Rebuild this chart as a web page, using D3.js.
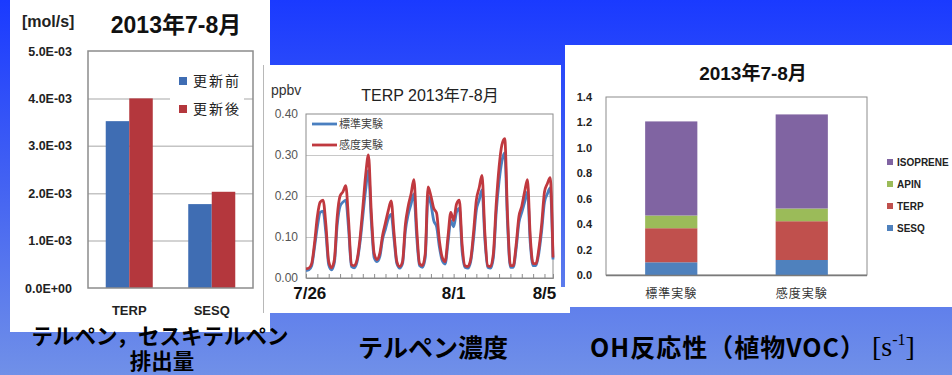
<!DOCTYPE html>
<html><head><meta charset="utf-8">
<script src="https://cdn.jsdelivr.net/npm/d3@7"></script>
<style>
html,body{margin:0;padding:0;overflow:hidden;background:#fff;}
svg{display:block;}
</style></head>
<body>
<svg id="slide" width="952" height="375"></svg>
<script>
// ---- Emissions of terpenes / sesquiterpenes [mol/s] ----
const emisCategories = ["TERP", "SESQ"];
const emisSeries = ["更新前", "更新後"];
const emisBefore = [3.52e-3, 1.77e-3];
const emisAfter = [4.0e-3, 2.03e-3];
const emisTickValues = [0, 1e-3, 2e-3, 3e-3, 4e-3, 5e-3];
const emisTickLabels = ["0.0E+00", "1.0E-03", "2.0E-03", "3.0E-03", "4.0E-03", "5.0E-03"];

// ---- TERP concentration [ppbv], 3-hourly from 2013-07-26 00:00 ----
const terpStart = new Date(2013, 6, 26, 0, 0);
const terpStepHours = 3;
const terpStandard = [
  0.018, 0.020, 0.030, 0.075, 0.125, 0.160, 0.163, 0.110,
  0.032, 0.020, 0.038, 0.130, 0.175, 0.185, 0.190, 0.120,
  0.028, 0.025, 0.040, 0.085, 0.150, 0.215, 0.262, 0.140,
  0.050, 0.040, 0.052, 0.095, 0.120, 0.145, 0.155, 0.095,
  0.035, 0.024, 0.035, 0.115, 0.155, 0.180, 0.205, 0.100,
  0.030, 0.026, 0.050, 0.200, 0.180, 0.140, 0.125, 0.075,
  0.042, 0.034, 0.085, 0.140, 0.125, 0.160, 0.170, 0.065,
  0.026, 0.024, 0.040, 0.095, 0.165, 0.190, 0.215, 0.095,
  0.026, 0.024, 0.050, 0.160, 0.235, 0.285, 0.305, 0.130,
  0.026, 0.026, 0.070, 0.135, 0.160, 0.185, 0.210, 0.085,
  0.030, 0.030, 0.060, 0.115, 0.185, 0.205, 0.220, 0.045
];
const terpSensitivity = [
  0.022, 0.024, 0.035, 0.085, 0.150, 0.185, 0.190, 0.130,
  0.040, 0.025, 0.045, 0.150, 0.200, 0.210, 0.225, 0.140,
  0.032, 0.030, 0.045, 0.095, 0.170, 0.250, 0.300, 0.160,
  0.060, 0.045, 0.060, 0.105, 0.135, 0.165, 0.188, 0.110,
  0.040, 0.028, 0.040, 0.130, 0.175, 0.205, 0.240, 0.120,
  0.035, 0.030, 0.060, 0.222, 0.200, 0.170, 0.158, 0.090,
  0.050, 0.040, 0.100, 0.160, 0.140, 0.180, 0.190, 0.080,
  0.030, 0.028, 0.045, 0.110, 0.190, 0.220, 0.250, 0.110,
  0.030, 0.028, 0.060, 0.180, 0.270, 0.325, 0.340, 0.150,
  0.030, 0.030, 0.080, 0.150, 0.175, 0.210, 0.240, 0.100,
  0.035, 0.035, 0.070, 0.130, 0.210, 0.230, 0.245, 0.050
];
const terpSeriesNames = ["標準実験", "感度実験"];
const terpTickValues = [0, 0.1, 0.2, 0.3, 0.4];
const terpDateLabels = ["7/26", "8/1", "8/5"];
const terpDateLabelTimes = [new Date(2013, 6, 26, 4), new Date(2013, 7, 1, 12), new Date(2013, 7, 5, 12)];

// ---- OH reactivity of biogenic VOC [s-1] ----
const ohCategories = ["標準実験", "感度実験"];
const ohSpecies = ["SESQ", "TERP", "APIN", "ISOPRENE"];
const ohSESQ = [0.100, 0.118];
const ohTERP = [0.268, 0.305];
const ohAPIN = [0.100, 0.100];
const ohISOPRENE = [0.740, 0.740];
const ohTickValues = [0, 0.2, 0.4, 0.6, 0.8, 1.0, 1.2, 1.4];

const LATIN = "'Liberation Sans', Arial, 'Noto Sans CJK JP', sans-serif";
const CJK = "'Noto Sans CJK JP', 'Liberation Sans', sans-serif";

const svg = d3.select("#slide");

// slide background
const defs = svg.append("defs");
const bg = defs.append("linearGradient").attr("id", "bgGrad")
  .attr("gradientUnits", "userSpaceOnUse")
  .attr("x1", 0).attr("y1", 0).attr("x2", 0).attr("y2", 375);
bg.append("stop").attr("offset", 0).attr("stop-color", "#1a3aff");
bg.append("stop").attr("offset", 0.5).attr("stop-color", "#4463f2");
bg.append("stop").attr("offset", 1).attr("stop-color", "#7090e8");
svg.append("rect").attr("width", 952).attr("height", 375).attr("fill", "url(#bgGrad)");

// white chart panels
svg.append("rect").attr("x", 10).attr("y", 0).attr("width", 260).attr("height", 332).attr("fill", "#fff");
svg.append("rect").attr("x", 263).attr("y", 65).attr("width", 307).attr("height", 248).attr("fill", "#fff");
svg.append("rect").attr("x", 565).attr("y", 45).attr("width", 387).attr("height", 262).attr("fill", "#fff");
svg.append("rect").attr("x", 561).attr("y", 65).attr("width", 4).attr("height", 222).attr("fill", "url(#bgGrad)");
svg.append("line").attr("x1", 263.5).attr("x2", 263.5).attr("y1", 65).attr("y2", 313)
  .attr("stroke", "#b8b8b8").attr("stroke-width", 1);

// ================= Panel 1: emissions =================
{
  const g = svg.append("g");
  const L = 88, R = 253, T = 51, B = 288;
  const y = d3.scaleLinear().domain([0, 5e-3]).range([B, T]);
  const x0 = d3.scaleBand().domain(emisCategories).range([L, R]).paddingInner(0.43).paddingOuter(0.215);
  const x1 = d3.scaleBand().domain(emisSeries).range([0, x0.bandwidth()]);
  const colors = d3.scaleOrdinal().domain(emisSeries).range(["#3f6db3", "#b4373d"]);

  // gridlines
  g.append("g").selectAll("line").data(emisTickValues.slice(1, -1)).join("line")
    .attr("x1", L).attr("x2", R).attr("y1", d => y(d) + 0.5).attr("y2", d => y(d) + 0.5)
    .attr("stroke", "#c4c4c4").attr("stroke-width", 1.5);

  // legend box (covers gridline)
  g.append("rect").attr("x", 170).attr("y", 68).attr("width", 74).attr("height", 54).attr("fill", "#fff");

  const rows = emisCategories.map((c, i) => ({ cat: c, vals: [emisBefore[i], emisAfter[i]] }));
  g.append("g").selectAll("g").data(rows).join("g")
    .attr("transform", d => `translate(${x0(d.cat)},0)`)
    .selectAll("rect").data(d => d.vals.map((v, j) => ({ s: emisSeries[j], v }))).join("rect")
    .attr("x", d => x1(d.s)).attr("width", x1.bandwidth())
    .attr("y", d => y(d.v)).attr("height", d => B - y(d.v))
    .attr("fill", d => colors(d.s));

  g.append("rect").attr("x", L).attr("y", T).attr("width", R - L).attr("height", B - T)
    .attr("fill", "none").attr("stroke", "#8c8c8c").attr("stroke-width", 1.5);

  const yAxis = d3.axisLeft(y).tickValues(emisTickValues)
    .tickFormat((d, i) => emisTickLabels[i]).tickSize(0).tickPadding(16);
  const ya = g.append("g").attr("transform", `translate(${L},0)`).call(yAxis);
  ya.select(".domain").remove();
  ya.selectAll("text").attr("font-family", LATIN).attr("font-size", 12.5).attr("font-weight", "bold").attr("fill", "#222");

  const xAxis = d3.axisBottom(x0).tickSize(0).tickPadding(18);
  const xa = g.append("g").attr("transform", `translate(0,${B})`).call(xAxis);
  xa.select(".domain").remove();
  xa.selectAll("text").attr("font-family", LATIN).attr("font-size", 13).attr("font-weight", "bold").attr("fill", "#222");

  // legend
  emisSeries.forEach((s, i) => {
    const ly = 81 + i * 28;
    g.append("rect").attr("x", 179).attr("y", ly - 4).attr("width", 8).attr("height", 8).attr("fill", colors(s));
    g.append("text").attr("x", 193).attr("y", ly + 5).text(s)
      .attr("font-family", CJK).attr("font-size", 14).attr("letter-spacing", 2).attr("fill", "#222");
  });

  g.append("text").attr("x", 22).attr("y", 27).text("[mol/s]")
    .attr("font-family", LATIN).attr("font-size", 16).attr("font-weight", "bold").attr("fill", "#222");
  g.append("text").attr("x", 176).attr("y", 33).attr("text-anchor", "middle").text("2013年7-8月")
    .attr("font-family", LATIN).attr("font-size", 23).attr("font-weight", "bold").attr("fill", "#111");
}

// ================= Panel 2: TERP concentration =================
{
  const g = svg.append("g");
  const L = 306, R = 553, T = 114, B = 278;
  const times = terpStandard.map((_, i) => d3.timeHour.offset(terpStart, i * terpStepHours));
  const x = d3.scaleTime().domain([times[0], times[times.length - 1]]).range([L, R]);
  const y = d3.scaleLinear().domain([0, 0.4]).range([B, T]);

  g.append("g").selectAll("line").data(terpTickValues.slice(1, -1)).join("line")
    .attr("x1", L).attr("x2", R).attr("y1", d => y(d) + 0.5).attr("y2", d => y(d) + 0.5)
    .attr("stroke", "#c8c8c8").attr("stroke-width", 1);

  g.append("rect").attr("x", L).attr("y", T).attr("width", R - L).attr("height", B - T)
    .attr("fill", "none").attr("stroke", "#8c8c8c").attr("stroke-width", 1);

  // 12-hour tick marks along the time axis
  const xAxis = d3.axisBottom(x).ticks(d3.timeHour.every(12)).tickSize(-4).tickFormat("");
  const xa = g.append("g").attr("transform", `translate(0,${B})`).call(xAxis);
  xa.select(".domain").attr("stroke", "#8c8c8c");
  xa.selectAll(".tick line").attr("stroke", "#8c8c8c");

  const line = d3.line().x((d, i) => x(times[i])).y(d => y(d)).curve(d3.curveMonotoneX);
  const lineColors = ["#4a7fc0", "#c0393f"];
  [terpStandard, terpSensitivity].forEach((s, k) => {
    g.append("path").datum(s).attr("d", line).attr("fill", "none")
      .attr("stroke", lineColors[k]).attr("stroke-width", 2.8).attr("stroke-linejoin", "round");
  });

  const yAxis = d3.axisLeft(y).tickValues(terpTickValues).tickFormat(d3.format(".2f")).tickSize(0).tickPadding(8);
  const ya = g.append("g").attr("transform", `translate(${L},0)`).call(yAxis);
  ya.select(".domain").remove();
  ya.selectAll("text").attr("font-family", LATIN).attr("font-size", 12).attr("fill", "#555");

  g.append("g").selectAll("text").data(terpDateLabels).join("text")
    .attr("x", (d, i) => x(terpDateLabelTimes[i])).attr("y", 299).attr("text-anchor", "middle")
    .text(d => d).attr("font-family", LATIN).attr("font-size", 17).attr("font-weight", "bold").attr("fill", "#111");

  // legend
  terpSeriesNames.forEach((s, i) => {
    const ly = 124 + i * 21;
    g.append("line").attr("x1", 312).attr("x2", 337).attr("y1", ly).attr("y2", ly)
      .attr("stroke", lineColors[i]).attr("stroke-width", 2.8);
    g.append("text").attr("x", 339).attr("y", ly + 4).text(s)
      .attr("font-family", CJK).attr("font-size", 11).attr("fill", "#444");
  });

  g.append("text").attr("x", 271).attr("y", 95).text("ppbv")
    .attr("font-family", LATIN).attr("font-size", 14).attr("fill", "#333");
  g.append("text").attr("x", 430).attr("y", 101).attr("text-anchor", "middle").text("TERP 2013年7-8月")
    .attr("font-family", LATIN).attr("font-size", 16).attr("fill", "#222");
}

// ================= Panel 3: OH reactivity =================
{
  const g = svg.append("g");
  const L = 606, R = 867, T = 97, B = 275;
  const y = d3.scaleLinear().domain([0, 1.4]).range([B, T]);
  const x = d3.scaleBand().domain(ohCategories).range([L, R]).paddingInner(0.6).paddingOuter(0.3);
  const color = d3.scaleOrdinal().domain(ohSpecies).range(["#4f81bd", "#c0504d", "#9bbb59", "#8064a2"]);

  const table = ohCategories.map((c, i) => ({
    cat: c, SESQ: ohSESQ[i], TERP: ohTERP[i], APIN: ohAPIN[i], ISOPRENE: ohISOPRENE[i]
  }));
  const stacked = d3.stack().keys(ohSpecies)(table);

  g.append("rect").attr("x", L).attr("y", T).attr("width", R - L).attr("height", B - T)
    .attr("fill", "none").attr("stroke", "#8c8c8c").attr("stroke-width", 1);

  g.append("g").selectAll("g").data(stacked).join("g").attr("fill", d => color(d.key))
    .selectAll("rect").data(d => d).join("rect")
    .attr("x", d => x(d.data.cat)).attr("width", x.bandwidth())
    .attr("y", d => y(d[1])).attr("height", d => y(d[0]) - y(d[1]));

  g.append("line").attr("x1", L).attr("x2", R).attr("y1", B + 0.5).attr("y2", B + 0.5)
    .attr("stroke", "#7a7a7a").attr("stroke-width", 1.5);

  const yAxis = d3.axisLeft(y).tickValues(ohTickValues).tickFormat(d3.format(".1f")).tickSize(0).tickPadding(14);
  const ya = g.append("g").attr("transform", `translate(${L},0)`).call(yAxis);
  ya.select(".domain").remove();
  ya.selectAll("text").attr("font-family", LATIN).attr("font-size", 11).attr("font-weight", "bold").attr("fill", "#222");

  const xAxis = d3.axisBottom(x).tickSize(0).tickPadding(14);
  const xa = g.append("g").attr("transform", `translate(0,${B})`).call(xAxis);
  xa.select(".domain").remove();
  xa.selectAll("text").attr("font-family", CJK).attr("font-size", 12).attr("letter-spacing", 1).attr("fill", "#333");

  // legend, top to bottom in reverse stack order
  ohSpecies.slice().reverse().forEach((s, i) => {
    const ly = 162 + i * 22;
    g.append("rect").attr("x", 887).attr("y", ly - 3).attr("width", 6).attr("height", 6).attr("fill", color(s));
    g.append("text").attr("x", 897).attr("y", ly + 4).text(s)
      .attr("font-family", LATIN).attr("font-size", 10).attr("font-weight", "bold").attr("fill", "#222");
  });

  g.append("text").attr("x", 753).attr("y", 80).attr("text-anchor", "middle").text("2013年7-8月")
    .attr("font-family", LATIN).attr("font-size", 19).attr("font-weight", "bold").attr("fill", "#111");
}

// ================= slide captions =================
const cap1 = svg.append("text").attr("text-anchor", "middle")
  .attr("font-family", CJK).attr("font-size", 21.5).attr("font-weight", "bold").attr("fill", "#000");
cap1.append("tspan").attr("x", 160).attr("y", 344).text("テルペン，セスキテルペン");
cap1.append("tspan").attr("x", 162).attr("dy", 25).text("排出量");
svg.append("text").attr("x", 433).attr("y", 357).attr("text-anchor", "middle").text("テルペン濃度")
  .attr("font-family", CJK).attr("font-size", 25).attr("font-weight", "bold").attr("fill", "#000");
svg.append("text").attr("x", 590).attr("y", 357).text("OH反応性（植物VOC）")
  .attr("font-family", CJK).attr("font-size", 25).attr("font-weight", "bold").attr("letter-spacing", 1)
  .attr("fill", "#000");
const unit = svg.append("text").attr("x", 872).attr("y", 356)
  .attr("font-family", "'Liberation Serif', 'Times New Roman', serif").attr("font-size", 28).attr("fill", "#000");
unit.append("tspan").text("[s");
unit.append("tspan").attr("dy", -11).attr("font-size", 16).text("-1");
unit.append("tspan").attr("dy", 11).text("]");
</script>
</body></html>
